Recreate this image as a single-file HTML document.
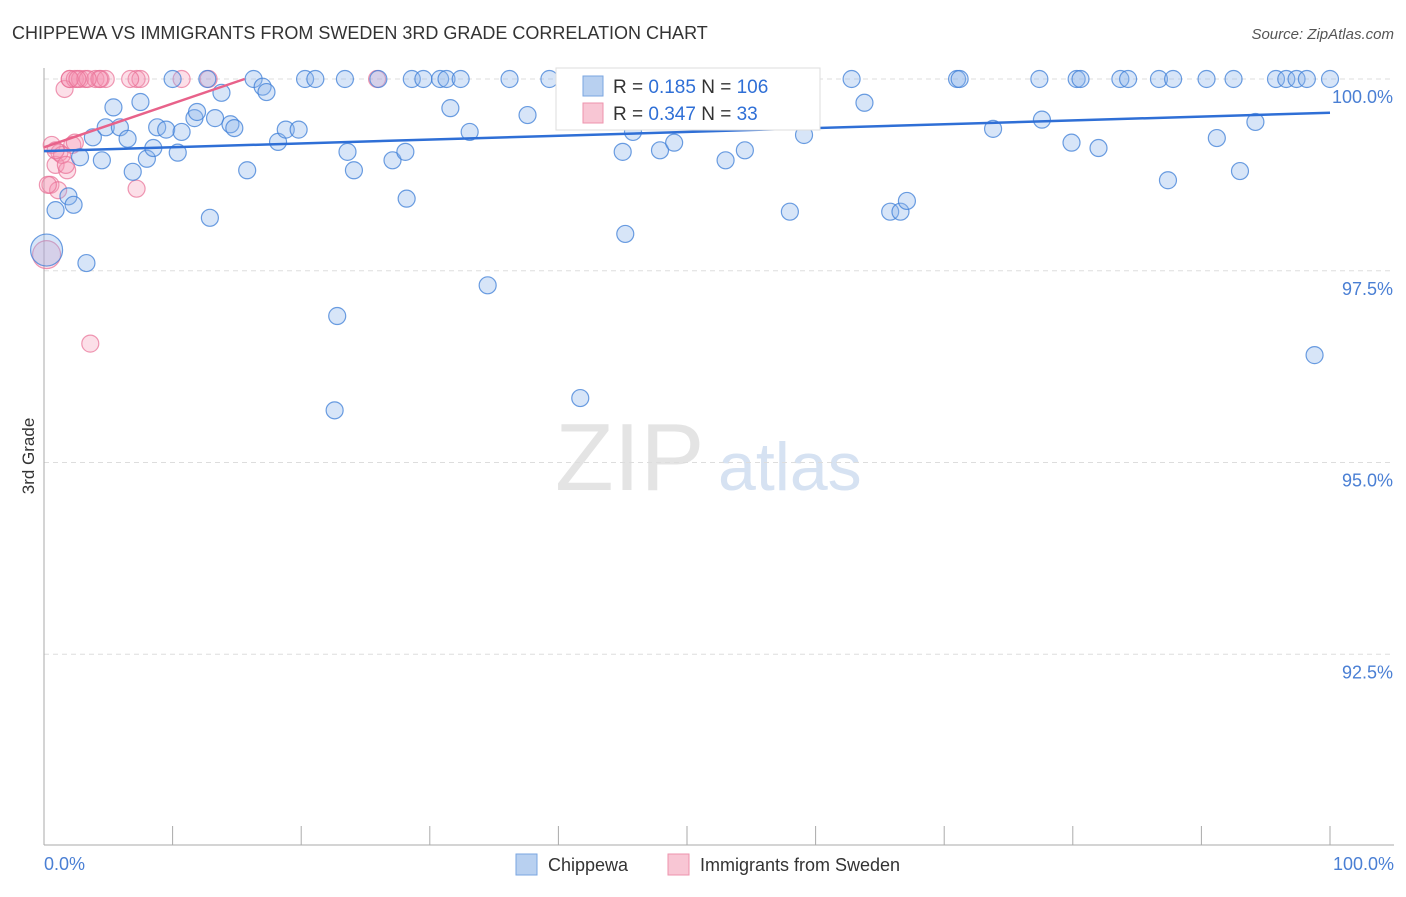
<!DOCTYPE html>
<html><head><meta charset="utf-8"><style>
body{margin:0;background:#fff;font-family:"Liberation Sans",sans-serif;}
svg text{font-family:"Liberation Sans",sans-serif;}
</style></head><body>
<svg id="chart" width="1406" height="892" viewBox="0 0 1406 892">
<text x="12" y="39" font-size="18" fill="#333">CHIPPEWA VS IMMIGRANTS FROM SWEDEN 3RD GRADE CORRELATION CHART</text>
<text x="1394" y="39" font-size="15" fill="#555" text-anchor="end" font-style="italic">Source: ZipAtlas.com</text>
<text x="555" y="490" font-size="96" fill="#e4e4e4" font-family="Liberation Serif">ZIP</text>
<text x="718" y="490" font-size="68" fill="#d6e2f2">atlas</text>
<g id="grid"></g>
<line x1="44" y1="68" x2="44" y2="845" stroke="#aaa"/>
<line x1="44" y1="845" x2="1394" y2="845" stroke="#aaa"/>
<text transform="translate(34,456) rotate(-90)" font-size="17" fill="#333" text-anchor="middle">3rd Grade</text>
<text x="44" y="870" font-size="18" fill="#4a7fd4">0.0%</text>
<text x="1394" y="870" font-size="18" fill="#4a7fd4" text-anchor="end">100.0%</text>
<g id="pts"></g>
<g id="lines"></g>
<g>
<rect x="556" y="68" width="264" height="62" fill="#fff" stroke="#ddd"/>
<rect x="583" y="76" width="20" height="20" fill="#b8d0f0" stroke="#7aa6e0"/>
<text x="613" y="93" font-size="19" fill="#333">R = <tspan fill="#2f6fd6">0.185</tspan>   N = <tspan fill="#2f6fd6">106</tspan></text>
<rect x="583" y="103" width="20" height="20" fill="#f8c6d4" stroke="#ee93ad"/>
<text x="613" y="120" font-size="19" fill="#333">R = <tspan fill="#2f6fd6">0.347</tspan>   N =   <tspan fill="#2f6fd6">33</tspan></text>
</g>
<g>
<rect x="516" y="854" width="21" height="21" fill="#b8d0f0" stroke="#7aa6e0"/>
<text x="548" y="871" font-size="18" fill="#333">Chippewa</text>
<rect x="668" y="854" width="21" height="21" fill="#f8c6d4" stroke="#ee93ad"/>
<text x="700" y="871" font-size="18" fill="#333">Immigrants from Sweden</text>
</g>
</svg>
<script>
const yTicks=[100,97.5,95,92.5];
const yTickLabels=["100.0%","97.5%","95.0%","92.5%"];
const xTicks=[0,10,20,30,40,50,60,70,80,90,100];
const blueX=[0.2,0.9,1.9,2.3,3.3,2.8,3.8,4.5,4.8,5.4,5.9,6.5,6.9,7.5,8.0,8.5,8.8,9.5,10.0,10.4,10.7,11.7,11.9,12.7,12.9,13.3,13.8,14.5,14.8,15.8,16.3,17.0,17.3,18.2,18.8,19.8,20.3,21.1,22.6,22.8,23.4,23.6,24.1,26.0,27.1,28.1,28.2,28.6,29.5,30.8,31.3,31.6,32.4,33.1,34.5,36.2,37.6,39.3,41.7,45.0,45.2,45.8,46.4,47.9,49.0,51.6,53.0,54.5,56.1,58.0,59.1,62.8,63.8,65.8,66.6,67.1,71.0,71.2,73.8,77.4,77.6,79.9,80.3,80.6,82.0,83.7,84.3,86.7,87.4,87.8,90.4,91.2,92.5,93.0,94.2,95.8,96.6,97.4,98.2,98.8,100];
const blueY=[97.77,98.29,98.47,98.36,97.60,98.98,99.24,98.94,99.37,99.63,99.37,99.22,98.79,99.70,98.96,99.10,99.37,99.34,100,99.04,99.31,99.49,99.57,100,98.19,99.49,99.82,99.41,99.36,98.81,100,99.90,99.83,99.18,99.34,99.34,100,100,95.68,96.91,100,99.05,98.81,100,98.94,99.05,98.44,100,100,100,100,99.62,100,99.31,97.31,100,99.53,100,95.84,99.05,97.98,99.31,100,99.07,99.17,100,98.94,99.07,100,98.27,99.27,100,99.69,98.27,98.27,98.41,100,100,99.35,100,99.47,99.17,100,100,99.10,100,100,100,98.68,100,100,99.23,100,98.80,99.44,100,100,100,100,96.40,100];
const blueSize=[16];
const pinkX=[0.2,0.5,0.6,0.9,1.1,1.2,1.6,1.8,2.0,2.2,2.4,2.8,3.2,4.0,4.4,4.8,7.2,7.5,7.2,3.6,10.7,12.8,25.9,2.0,0.3,1.4,2.4,0.9,4.3,3.4,2.6,1.7,6.7];
const pinkY=[97.71,98.62,99.14,98.88,98.55,99.04,99.87,98.81,100,99.14,100,100,100,100,100,100,100,100,98.57,96.55,100,100,100,100,98.62,99.01,99.17,99.07,100,100,100,98.88,100];
const blueLine=[[0,99.06],[100,99.56]];
const pinkLine=[[0,99.11],[15.6,100]];
const X0=44,X1=1330,Y100=79,PX_PER=76.7;
const sx=v=>X0+(X1-X0)*v/100;
const sy=v=>Y100+(100-v)*PX_PER;
const NS="http://www.w3.org/2000/svg";
const grid=document.getElementById('grid');
yTicks.forEach((t,i)=>{
 const l=document.createElementNS(NS,'line');
 l.setAttribute('x1',44);l.setAttribute('x2',1394);l.setAttribute('y1',sy(t));l.setAttribute('y2',sy(t));
 l.setAttribute('stroke','#ddd');l.setAttribute('stroke-dasharray','5,4');
 
 
 grid.appendChild(l);
 const tx=document.createElementNS(NS,'text');
 tx.setAttribute('x',1393);tx.setAttribute('y',sy(t)+24);tx.setAttribute('text-anchor','end');
 tx.setAttribute('font-size','18');tx.setAttribute('fill','#4a7fd4');tx.textContent=yTickLabels[i];
 
 
 grid.appendChild(tx);
});
xTicks.forEach(t=>{
 const l=document.createElementNS(NS,'line');
 l.setAttribute('x1',sx(t));l.setAttribute('x2',sx(t));l.setAttribute('y1',826);l.setAttribute('y2',845);
 l.setAttribute('stroke','#aaa');
 
 
 grid.appendChild(l);
});
const pts=document.getElementById('pts');
function dot(x,y,r,fill,stroke,name){
 const c=document.createElementNS(NS,'circle');
 c.setAttribute('cx',sx(x));c.setAttribute('cy',sy(y));c.setAttribute('r',r);
 c.setAttribute('fill',fill);c.setAttribute('stroke',stroke);c.setAttribute('stroke-width','1.2');
 
 
 pts.appendChild(c);
}
pinkX.forEach((x,i)=>dot(x,pinkY[i],i===0?14:8.5,'rgba(244,150,178,0.3)','rgba(232,110,148,0.7)','immigrants-sweden-point'));
blueX.forEach((x,i)=>dot(x,blueY[i],i===0?blueSize[0]:8.5,'rgba(140,180,235,0.35)','rgba(60,125,215,0.75)','chippewa-point'));
const lines=document.getElementById('lines');
function line(d,color,name){
 const l=document.createElementNS(NS,'line');
 l.setAttribute('x1',sx(d[0][0]));l.setAttribute('y1',sy(d[0][1]));
 l.setAttribute('x2',sx(d[1][0]));l.setAttribute('y2',sy(d[1][1]));
 l.setAttribute('stroke',color);l.setAttribute('stroke-width','2.5');
 
 
 lines.appendChild(l);
}
line(blueLine,'#2f6fd6','chippewa-trendline');
line(pinkLine,'#e8628a','sweden-trendline');
</script>
</body></html>
